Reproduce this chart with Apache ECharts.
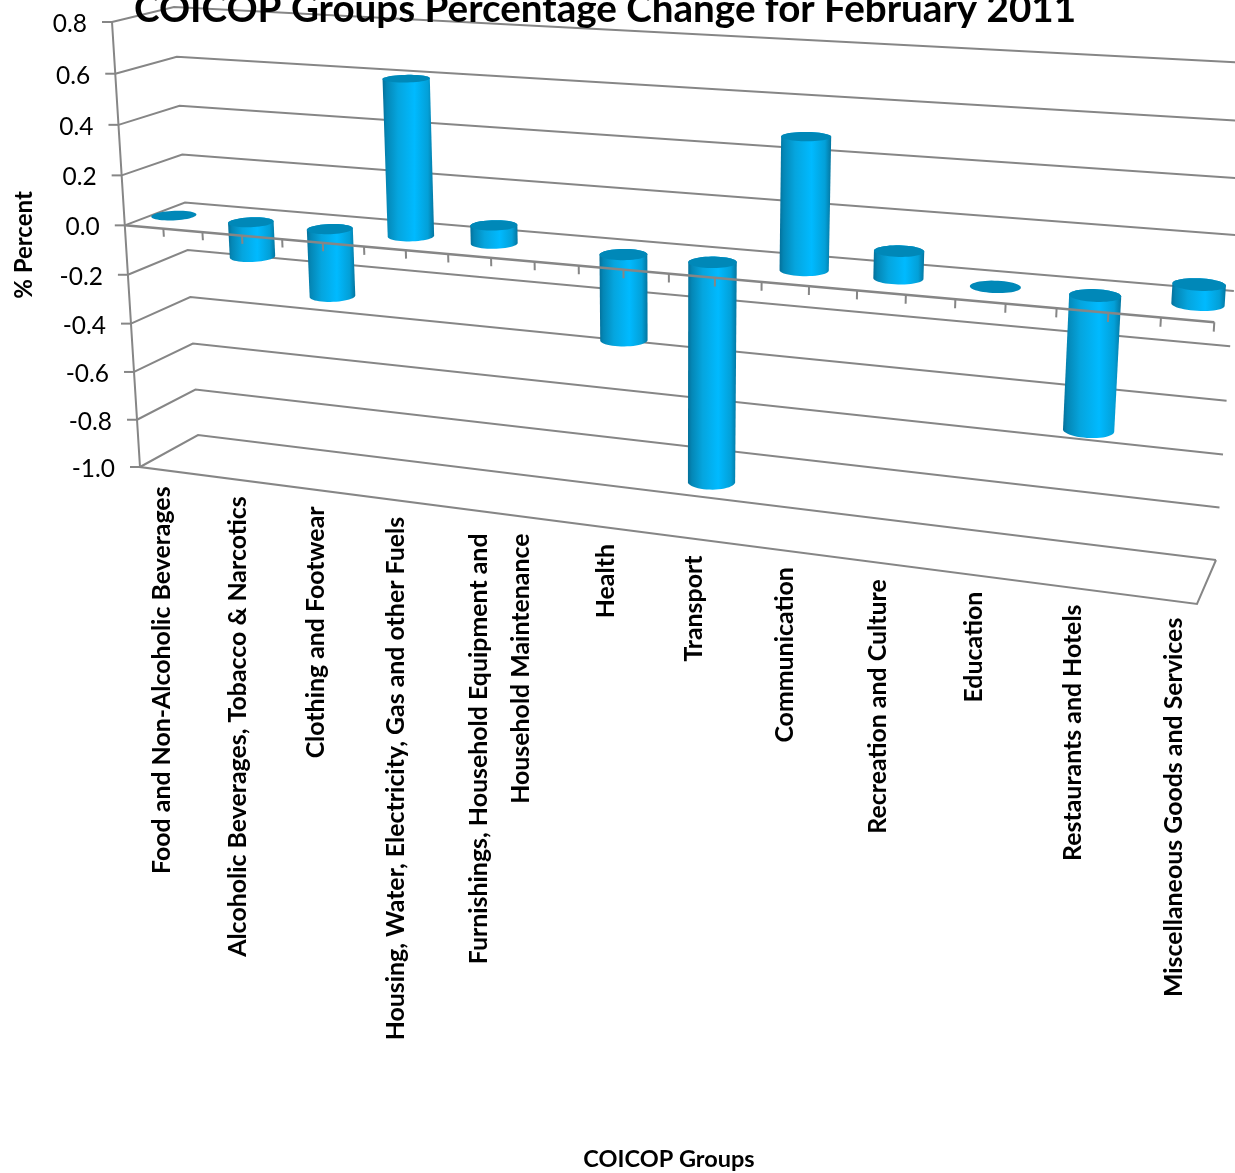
<!DOCTYPE html>
<html><head><meta charset="utf-8">
<style>html,body{margin:0;padding:0;background:#fff}#c{width:1235px;height:1173px}</style>
<script src="https://cdn.jsdelivr.net/npm/echarts@6/dist/echarts.min.js"></script>
</head><body><div id="c"></div>
<script>
const categories = ['Food and Non-Alcoholic Beverages','Alcoholic Beverages, Tobacco & Narcotics','Clothing and Footwear','Housing, Water, Electricity, Gas and other Fuels','Furnishings, Household Equipment and\nHousehold Maintenance','Health','Transport','Communication','Recreation and Culture','Education','Restaurants and Hotels','Miscellaneous Goods and Services'];
const values = [0, -0.14, -0.27, 0.61, 0.07, -0.33, -0.85, 0.49, 0.10, 0, -0.49, 0.07];
const slots = [0,2,4,6,8,11,13,15,17,19,21,23];
const valueTicks = [0.8,0.6,0.4,0.2,0,-0.2,-0.4,-0.6,-0.8,-1];
const axisSlotCount = 24;

const FONT='Lato';
const GRAY='#868686';
const G={left:169,top:45,width:1000,height:400};
function homography(q){
  const [p0,p1,p2,p3]=q;
  const dx1=p1[0]-p2[0],dx2=p3[0]-p2[0],sx=p0[0]-p1[0]+p2[0]-p3[0];
  const dy1=p1[1]-p2[1],dy2=p3[1]-p2[1],sy=p0[1]-p1[1]+p2[1]-p3[1];
  const den=dx1*dy2-dx2*dy1;
  const g=(sx*dy2-dx2*sy)/den,h=(dx1*sy-sx*dy1)/den;
  const a=p1[0]-p0[0]+g*p1[0],b=p3[0]-p0[0]+h*p3[0],c=p0[0];
  const d=p1[1]-p0[1]+g*p1[1],e=p3[1]-p0[1]+h*p3[1],f=p0[1];
  return (s,t)=>{const w=g*s+h*t+1;return [(a*s+b*t+c)/w,(d*s+e*t+f)/w];};
}
const frontPlane=homography([[112,22],[1229,83],[1197,604],[140,467]]);
const backPlane=homography([[174,7],[1249,63],[1216,560],[198,435]]);
function project(api,x,v,depth){
  const p=api.coord([x,v]);
  const s=(p[0]-G.left)/G.width,t=(p[1]-G.top)/G.height;
  const a=frontPlane(s,t),b=backPlane(s,t);
  return [a[0]+(b[0]-a[0])*depth,a[1]+(b[1]-a[1])*depth];
}
function line(pts,w){return {type:'polyline',silent:true,shape:{points:pts},style:{fill:'none',stroke:GRAY,lineWidth:w||2}};}
function hull(points){
  const P=points.slice().sort((a,b)=>a[0]-b[0]||a[1]-b[1]);
  const cr=(o,a,b)=>(a[0]-o[0])*(b[1]-o[1])-(a[1]-o[1])*(b[0]-o[0]);
  const lo=[],up=[];
  for(const p of P){while(lo.length>1&&cr(lo[lo.length-2],lo[lo.length-1],p)<=0)lo.pop();lo.push(p);}
  for(let i=P.length-1;i>=0;i--){const p=P[i];while(up.length>1&&cr(up[up.length-2],up[up.length-1],p)<=0)up.pop();up.push(p);}
  lo.pop();up.pop();return lo.concat(up);
}
const R_U=0.505,R_D=0.2;
function disc(api,cx,v){
  const out=[];
  for(let k=0;k<48;k++){const a=k/48*Math.PI*2;out.push(project(api,cx+R_U*Math.cos(a),v,0.5+R_D*Math.sin(a)));}
  return out;
}
const barFill=new echarts.graphic.LinearGradient(0,0,1,0,[
  {offset:0,color:'#04709a'},{offset:0.08,color:'#0487b6'},{offset:0.3,color:'#05a5de'},
  {offset:0.62,color:'#00baff'},{offset:0.88,color:'#03a0d8'},{offset:1,color:'#04759f'}]);

const tickSlots=[];for(let i=1;i<=axisSlotCount;i++)tickSlots.push(i);

const option={
  animation:false,
  backgroundColor:'#fff',
  title:{text:'COICOP Groups Percentage Change for February 2011',left:129,top:-15,textStyle:{fontFamily:FONT,fontWeight:'bold',fontSize:38.6,color:'#000'}},
  grid:{left:G.left,top:G.top,width:G.width,height:G.height,outerBoundsMode:'none',containLabel:false},
  xAxis:{type:'value',min:0,max:axisSlotCount,interval:1,
    axisLine:{show:false},axisTick:{show:false},axisLabel:{show:false},splitLine:{show:false},
    name:'COICOP Groups',nameLocation:'middle',nameGap:702,nameTextStyle:{fontFamily:FONT,fontWeight:'bold',fontSize:23.5,color:'#000'}},
  yAxis:{type:'value',min:-1,max:0.8,interval:0.2,
    axisLine:{show:false},axisTick:{show:false},axisLabel:{show:false},splitLine:{show:false},
    name:'% Percent',nameLocation:'middle',nameRotate:90,nameGap:133,nameTextStyle:{fontFamily:FONT,fontWeight:'bold',fontSize:24,color:'#000'}},
  series:[
   {type:'custom',name:'walls',z:1,silent:true,coordinateSystem:'cartesian2d',data:valueTicks.map(v=>[0,v]),
    renderItem(p,api){
      const v=api.value(1);
      const a=project(api,0,v,0),b=project(api,0,v,1),c=project(api,axisSlotCount,v,1);
      return {type:'group',children:[line([[a[0]-10,a[1]],a]),line([a,b,c])]};
    }},
   {type:'custom',name:'frame',z:1,silent:true,data:[[0,-1]],
    renderItem(p,api){
      return {type:'group',children:[
        line([project(api,0,0.8,0),project(api,0,-1,0),project(api,axisSlotCount,-1,0),project(api,axisSlotCount,-1,1)])
      ]};
    }},
   {type:'custom',name:'bars',z:3,silent:true,data:values.map((v,i)=>[slots[i]+0.5,v]),
    renderItem(p,api){
      const cx=api.value(0),v=api.value(1);
      const topV=Math.max(v,0),botV=Math.min(v,0);
      const kids=[];
      const top=disc(api,cx,topV);
      if(topV!==botV){
        kids.push({type:'polygon',silent:true,shape:{points:hull(top.concat(disc(api,cx,botV)))},style:{fill:barFill}});
      }
      kids.push({type:'polygon',silent:true,shape:{points:top},style:{fill:'#0088b8'}});
      return {type:'group',children:kids};
    }},
   {type:'custom',name:'zeroAxis',z:4,silent:true,data:tickSlots.map(t=>[t,0]),
    renderItem(p,api){
      const t=api.value(0);
      const kids=[line([project(api,t,0,0),project(api,t,-0.032,0)])];
      if(t===1)kids.push(line([project(api,0,0,0),project(api,axisSlotCount,0,0)],2.5));
      return {type:'group',children:kids};
    }},
   {type:'custom',name:'valueLabels',z:5,silent:true,data:valueTicks.map(v=>[0,v]),
    renderItem(p,api){
      const v=api.value(1),a=project(api,0,v,0);
      return {type:'text',silent:true,x:a[0]-25,y:a[1]+2,style:{text:v.toFixed(1),align:'right',verticalAlign:'middle',fill:'#000',fontFamily:FONT,fontSize:24.5}};
    }},
   {type:'custom',name:'categoryLabels',z:5,silent:true,data:categories.map((n,i)=>[slots[i]+0.5,-1,i]),
    renderItem(p,api){
      const i=api.value(2),name=categories[i];
      const a=project(api,api.value(0),-1,0);
      const n=name.split('\n').length;
      return {type:'text',silent:true,x:a[0]+3+(n-1)*21,y:a[1]+17+(n-1)*6,rotation:Math.PI/2,
        style:{text:name,align:'right',verticalAlign:'middle',lineHeight:n>1?42:28,fill:'#000',fontFamily:FONT,fontWeight:'bold',fontSize:24.9}};
    }}
  ]
};
echarts.init(document.getElementById('c'),null,{renderer:'canvas'}).setOption(option);
</script></body></html>
